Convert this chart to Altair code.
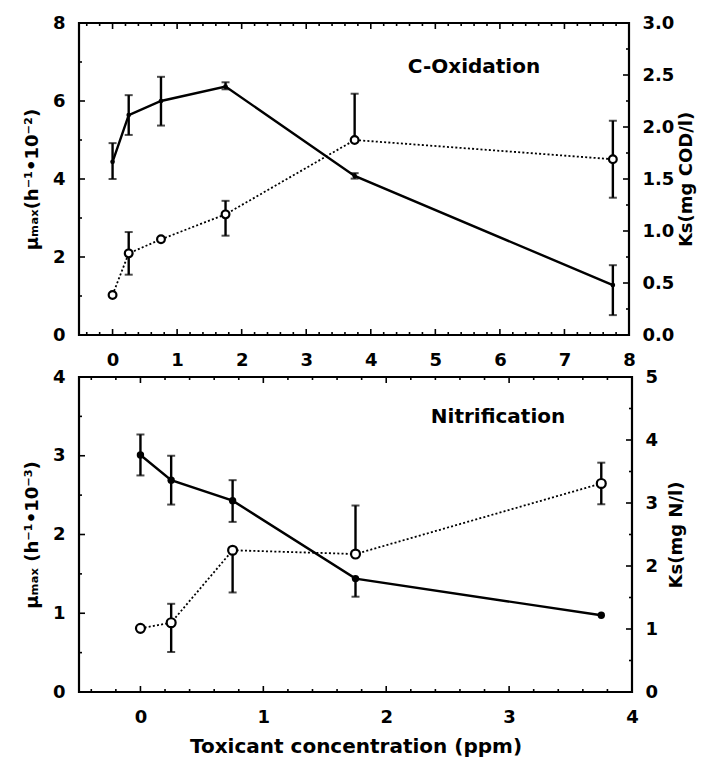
import altair as alt
import pandas as pd

# ---------------- data ----------------
# Top panel: C-Oxidation
top_x = [0, 0.25, 0.75, 1.75, 3.75, 7.75]
top_mu = [4.44, 5.64, 6.0, 6.37, 4.08, 1.28]
top_mu_hi = [4.92, 6.15, 6.62, 6.48, 4.15, 1.79]
top_mu_lo = [4.0, 5.13, 5.37, 6.3, 4.01, 0.51]
top_ks = [0.385, 0.785, 0.92, 1.16, 1.875, 1.69]
top_ks_hi = [None, 0.99, None, 1.29, 2.32, 2.06]
top_ks_lo = [None, 0.58, None, 0.955, None, 1.32]

# Bottom panel: Nitrification
bot_x = [0, 0.25, 0.75, 1.75, 3.75]
bot_mu = [3.01, 2.69, 2.43, 1.44, 0.974]
bot_mu_hi = [3.27, 3.0, 2.69, None, None]
bot_mu_lo = [2.75, 2.38, 2.16, 1.21, None]
bot_ks = [1.01, 1.10, 2.25, 2.19, 3.31]
bot_ks_hi = [None, 1.40, None, 2.96, 3.64]
bot_ks_lo = [None, 0.635, 1.58, None, 2.98]

# tick values
top_x_major = [0, 1, 2, 3, 4, 5, 6, 7, 8]
top_x_minor = [round(-0.4 + 0.2 * i, 2) for i in range(42) if abs(round(-0.4 + 0.2 * i, 2) % 1) > 1e-6]
top_mu_major = [0, 2, 4, 6, 8]
top_mu_minor = [1, 3, 5, 7]
top_ks_major = [0.0, 0.5, 1.0, 1.5, 2.0, 2.5, 3.0]
top_ks_minor = [0.25, 0.75, 1.25, 1.75, 2.25, 2.75]

bot_x_major = [0, 1, 2, 3, 4]
bot_x_minor = [round(-0.4 + 0.2 * i, 2) for i in range(22) if abs(round(-0.4 + 0.2 * i, 2) % 1) > 1e-6]
bot_mu_major = [0, 1, 2, 3, 4]
bot_mu_minor = [0.5, 1.5, 2.5, 3.5]
bot_ks_major = [0, 1, 2, 3, 4, 5]
bot_ks_minor = [0.5, 1.5, 2.5, 3.5, 4.5]

FONT = "DejaVu Sans"


def err_frames(x, y, hi, lo):
    df = pd.DataFrame({"x": x, "y": y, "hi": hi, "lo": lo})
    bars = df[~(df.hi.isna() & df.lo.isna())].copy()
    bars["top"] = bars.hi.fillna(bars.y)
    bars["bot"] = bars.lo.fillna(bars.y)
    hic = df[df.hi.notna()][["x", "hi"]].rename(columns={"hi": "c"})
    loc = df[df.lo.notna()][["x", "lo"]].rename(columns={"lo": "c"})
    caps = pd.concat([hic, loc], ignore_index=True)
    return df, bars, caps


def series_group(x, y, hi, lo, xs, xaxis, ys, axis, dotted, pt_size, open_pt, extra):
    df, bars, caps = err_frames(x, y, hi, lo)
    X = alt.X("x:Q", scale=xs, axis=xaxis)
    Y = alt.Y("y:Q", scale=ys, axis=axis)
    if dotted:
        line = alt.Chart(df).mark_line(color="black", strokeWidth=1.8, strokeDash=[2, 2.2]).encode(x=X, y=Y)
    else:
        line = alt.Chart(df).mark_line(color="black", strokeWidth=2.4).encode(x=X, y=Y)
    rules = alt.Chart(bars).mark_rule(color="black", strokeWidth=2.4).encode(
        x=X, y=alt.Y("bot:Q", scale=ys, axis=axis), y2="top:Q")
    capm = alt.Chart(caps).mark_tick(orient="horizontal", color="black", thickness=2, size=8).encode(
        x=X, y=alt.Y("c:Q", scale=ys, axis=axis))
    if open_pt:
        pts = alt.Chart(df).mark_circle(fill="white", stroke="black", strokeWidth=2.2,
                                        opacity=1, size=pt_size).encode(x=X, y=Y)
    else:
        pts = alt.Chart(df).mark_circle(color="black", opacity=1, size=pt_size).encode(x=X, y=Y)
    return alt.layer(line, rules, capm, pts, *extra)


def yticks(vals, ys, axis, side, length, W):
    d = pd.DataFrame({"v": vals})
    if side == "left":
        x1, x2 = 0, length
    else:
        x1, x2 = W, W - length
    return alt.Chart(d).mark_rule(color="black", strokeWidth=1.6).encode(
        y=alt.Y("v:Q", scale=ys, axis=axis), x=alt.value(x1), x2=alt.value(x2))


def xticks(vals, xs, xaxis, H, length):
    d = pd.DataFrame({"v": vals})
    bot = alt.Chart(d).mark_rule(color="black", strokeWidth=1.6).encode(
        x=alt.X("v:Q", scale=xs, axis=xaxis), y=alt.value(H), y2=alt.value(H - length))
    top = alt.Chart(d).mark_rule(color="black", strokeWidth=1.6).encode(
        x=alt.X("v:Q", scale=xs, axis=xaxis), y=alt.value(0), y2=alt.value(length))
    return [bot, top]


def panel(W, H, x, mu, mu_hi, mu_lo, ks, ks_hi, ks_lo, xdom, mudom, ksdom,
          xmaj, xmin, mumaj, mumin, ksmaj, ksmin, mu_title, ks_title, ks_fmt,
          label, lx, ly, x_title, solid_size, open_size, ks_title_pad):
    xs = alt.Scale(domain=xdom, nice=False, zero=False)
    ms = alt.Scale(domain=mudom, nice=False, zero=False)
    kss = alt.Scale(domain=ksdom, nice=False, zero=False)

    xaxis_kw = dict(values=xmaj, labelFontSize=18, labelPadding=16, format="d",
                    labelFlush=False)
    if x_title:
        xaxis = alt.Axis(title=x_title, titleFontSize=20, titlePadding=10, **xaxis_kw)
    else:
        xaxis = alt.Axis(title=None, **xaxis_kw)

    mu_axis = alt.Axis(values=mumaj, title=mu_title, orient="left", labelFontSize=18,
                       labelPadding=14, titleFontSize=18, titlePadding=11, format="d")
    ks_axis = alt.Axis(values=ksmaj, title=ks_title, orient="right", labelFontSize=18,
                       labelPadding=13, titleFontSize=18, titlePadding=ks_title_pad,
                       titleAngle=270, titleBaseline="top", format=ks_fmt)

    left_extra = [
        yticks(mumaj, ms, mu_axis, "left", 6, W),
        yticks(mumin, ms, mu_axis, "left", 3, W),
        *xticks(xmaj, xs, xaxis, H, 6),
        *xticks(xmin, xs, xaxis, H, 3),
    ]
    right_extra = [
        yticks(ksmaj, kss, ks_axis, "right", 6, W),
        yticks(ksmin, kss, ks_axis, "right", 3, W),
        alt.Chart(pd.DataFrame({"t": [label]})).mark_text(
            font=FONT, fontWeight="bold", fontSize=20, color="black",
            align="center", baseline="middle").encode(
            text="t:N", x=alt.value(lx), y=alt.value(ly)),
    ]
    left = series_group(x, mu, mu_hi, mu_lo, xs, xaxis, ms, mu_axis, False, solid_size, False, left_extra)
    right = series_group(x, ks, ks_hi, ks_lo, xs, xaxis, kss, ks_axis, True, open_size, True, right_extra)
    return alt.layer(left, right).resolve_scale(y="independent").properties(width=W, height=H)


top = panel(550, 312, top_x, top_mu, top_mu_hi, top_mu_lo, top_ks, top_ks_hi, top_ks_lo,
            [-0.52, 8], [0, 8], [0, 3],
            top_x_major, top_x_minor, top_mu_major, top_mu_minor, top_ks_major, top_ks_minor,
            "μₘₐₓ(h⁻¹•10⁻²)", "Ks(mg COD/l)", ".1f",
            "C-Oxidation", 395, 44, None, 22, 60, 4)

bottom = panel(553, 315, bot_x, bot_mu, bot_mu_hi, bot_mu_lo, bot_ks, bot_ks_hi, bot_ks_lo,
               [-0.5, 4], [0, 4], [0, 5],
               bot_x_major, bot_x_minor, bot_mu_major, bot_mu_minor, bot_ks_major, bot_ks_minor,
               "μₘₐₓ  (h⁻¹•10⁻³)", "Ks(mg N/l)", "d",
               "Nitrification", 419, 40, "Toxicant concentration (ppm)", 55, 80, 10)

chart = alt.vconcat(top, bottom, spacing=42, bounds="flush").properties(
    padding={"left": 14, "top": 4, "right": 5, "bottom": 0}
).configure_view(stroke="black", strokeWidth=2.2).configure_axis(
    grid=False, domain=False, ticks=False, tickSize=0,
    labelFont=FONT, labelFontWeight="bold", labelColor="black",
    titleFont=FONT, titleFontWeight="bold", titleColor="black",
)

chart.save("out.html", embed_options={"renderer": "svg", "actions": False})
